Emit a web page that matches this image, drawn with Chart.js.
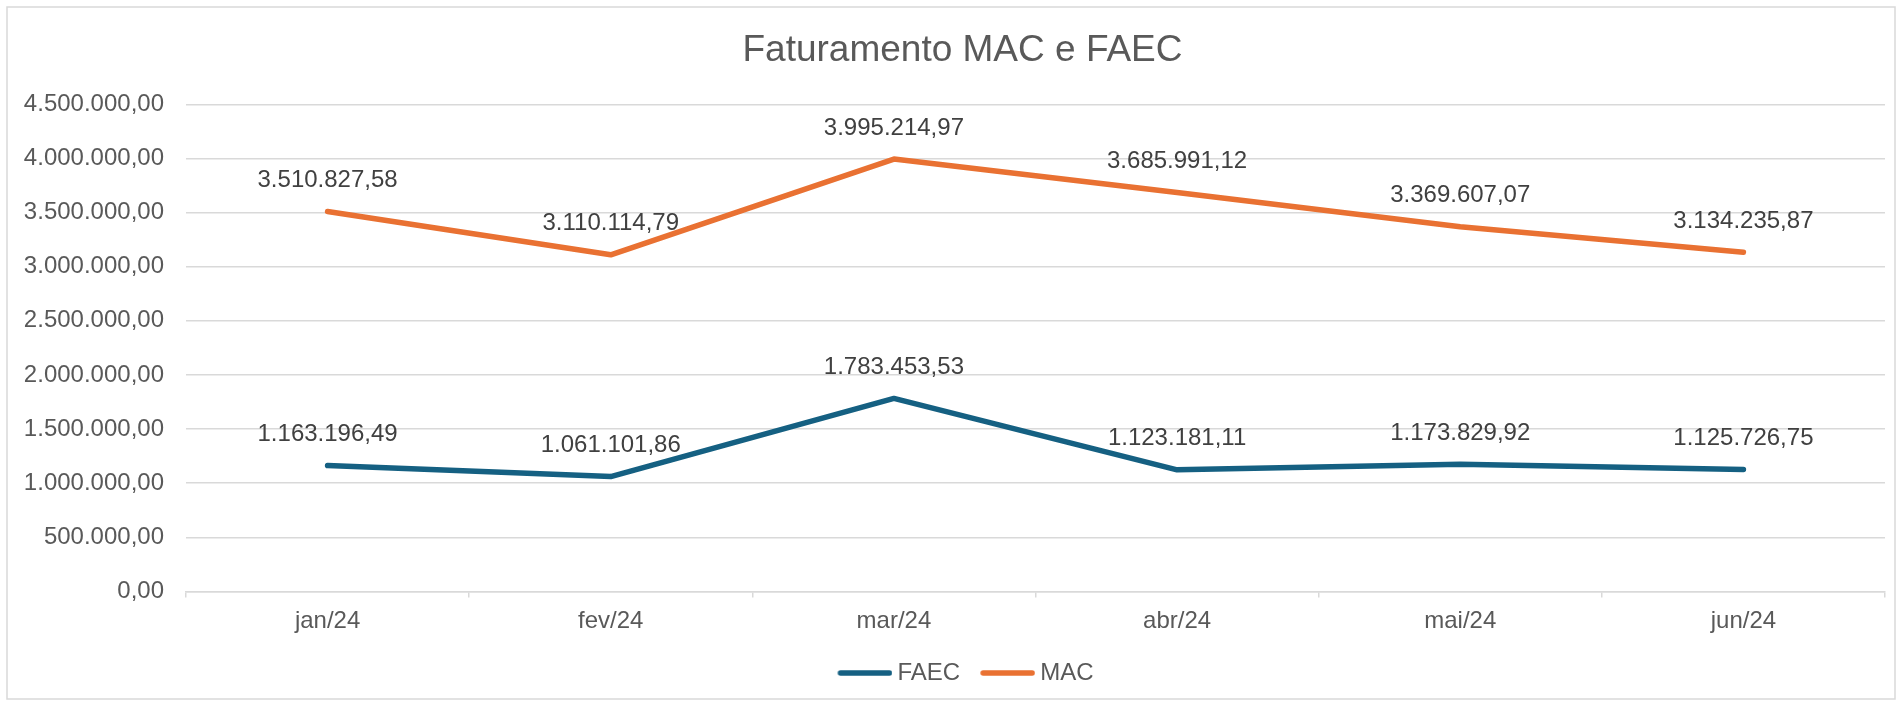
<!DOCTYPE html>
<html lang="pt-BR">
  <head>
    <meta charset="UTF-8" />
    <title>Faturamento MAC e FAEC</title>
    <style>
      html, body { margin: 0; padding: 0; background: #ffffff; }
      #wrap { width: 1899px; height: 702px; position: relative; }
    </style>
  </head>
  <body>
    <div id="wrap">
      <canvas id="myChart" width="1899" height="702"></canvas>
    </div>

    <script src="https://cdn.jsdelivr.net/npm/chart.js@4.4.1/dist/chart.umd.min.js"></script>

    <script>
      const months = ["jan/24", "fev/24", "mar/24", "abr/24", "mai/24", "jun/24"];
      const faec = [1163196.49, 1061101.86, 1783453.53, 1123181.11, 1173829.92, 1125726.75];
      const mac = [3510827.58, 3110114.79, 3995214.97, 3685991.12, 3369607.07, 3134235.87];
      const yMax = 4500000;
      const yStep = 500000;

      const FONT = "'Liberation Sans', Arial, sans-serif";
      const BLUE = "#156082";
      const ORANGE = "#e97132";

      // 1234567.8 -> "1.234.567,80"
      function fmt(v) {
        const parts = Math.abs(v).toFixed(2).split(".");
        const intPart = parts[0].replace(/\B(?=(\d{3})+(?!\d))/g, ".");
        return (v < 0 ? "-" : "") + intPart + "," + parts[1];
      }

      // legend swatch: a 55px rounded line, drawn on the right part of the image
      // so that the text sits close to it (chart.js centres the image on the box)
      function legendLine(color) {
        const c = document.createElement("canvas");
        c.width = 62;
        c.height = 8;
        const g = c.getContext("2d");
        g.strokeStyle = color;
        g.lineWidth = 5.5;
        g.lineCap = "round";
        g.beginPath();
        g.moveTo(7 + 3, 4);
        g.lineTo(62 - 3, 4);
        g.stroke();
        return c;
      }

      // outer frame like the excel chart border
      const framePlugin = {
        id: "frame",
        beforeDraw(chart) {
          const ctx = chart.ctx;
          ctx.save();
          ctx.fillStyle = "#ffffff";
          ctx.fillRect(0, 0, chart.width, chart.height);
          ctx.strokeStyle = "#d9d9d9";
          ctx.lineWidth = 1.5;
          ctx.strokeRect(7, 7, 1888, 692);
          ctx.restore();
        }
      };

      // excel centres title and legend a bit right of the canvas middle
      const shiftBlocks = {
        id: "shiftBlocks",
        afterLayout(chart) {
          if (chart.titleBlock) chart.titleBlock.left += 40;
          if (chart.legend) chart.legend.left += 46;
        }
      };

      // value labels above every point
      const valueLabels = {
        id: "valueLabels",
        afterDatasetsDraw(chart) {
          const ctx = chart.ctx;
          ctx.save();
          ctx.font = "24px " + FONT;
          ctx.fillStyle = "#404040";
          ctx.textAlign = "center";
          ctx.textBaseline = "middle";
          chart.data.datasets.forEach((ds, i) => {
            const meta = chart.getDatasetMeta(i);
            meta.data.forEach((pt, j) => {
              ctx.fillText(fmt(ds.data[j]), pt.x, pt.y - 31);
            });
          });
          ctx.restore();
        }
      };

      const ctx = document.getElementById("myChart").getContext("2d");
      new Chart(ctx, {
        type: "line",
        data: {
          labels: months,
          datasets: [
            {
              label: "FAEC",
              data: faec,
              borderColor: BLUE,
              backgroundColor: BLUE,
              borderWidth: 5.5,
              borderCapStyle: "round",
              borderJoinStyle: "round",
              pointRadius: 0,
              pointStyle: legendLine(BLUE),
              tension: 0
            },
            {
              label: "MAC",
              data: mac,
              borderColor: ORANGE,
              backgroundColor: ORANGE,
              borderWidth: 5.5,
              borderCapStyle: "round",
              borderJoinStyle: "round",
              pointRadius: 0,
              pointStyle: legendLine(ORANGE),
              tension: 0
            }
          ]
        },
        options: {
          responsive: false,
          animation: false,
          layout: { padding: { left: 0, right: 14, top: 0, bottom: 7 } },
          plugins: {
            title: {
              display: true,
              text: "Faturamento MAC e FAEC",
              color: "#595959",
              font: { family: FONT, size: 37, weight: "normal", lineHeight: 1.2 },
              padding: { top: 29, bottom: 31 }
            },
            legend: {
              position: "bottom",
              labels: {
                color: "#595959",
                font: { family: FONT, size: 24 },
                usePointStyle: true,
                pointStyleWidth: 48,
                padding: 20
              }
            },
            tooltip: { enabled: false }
          },
          scales: {
            x: {
              offset: true,
              grid: {
                offset: true,
                drawOnChartArea: false,
                drawTicks: true,
                tickLength: 6,
                color: "#d9d9d9",
                lineWidth: 1.5
              },
              border: { color: "#d9d9d9", width: 1.5 },
              ticks: {
                color: "#595959",
                font: { family: FONT, size: 24 },
                padding: 10
              },
              afterFit(s) { s.height = 49.6; }
            },
            y: {
              min: 0,
              max: yMax,
              ticks: {
                stepSize: yStep,
                color: "#595959",
                font: { family: FONT, size: 24 },
                padding: 22,
                callback: v => fmt(v)
              },
              grid: { color: "#d9d9d9", lineWidth: 1.5, drawTicks: false },
              border: { display: false },
              afterFit(s) { s.width = 186; }
            }
          }
        },
        plugins: [framePlugin, shiftBlocks, valueLabels]
      });
    </script>
  </body>
</html>
